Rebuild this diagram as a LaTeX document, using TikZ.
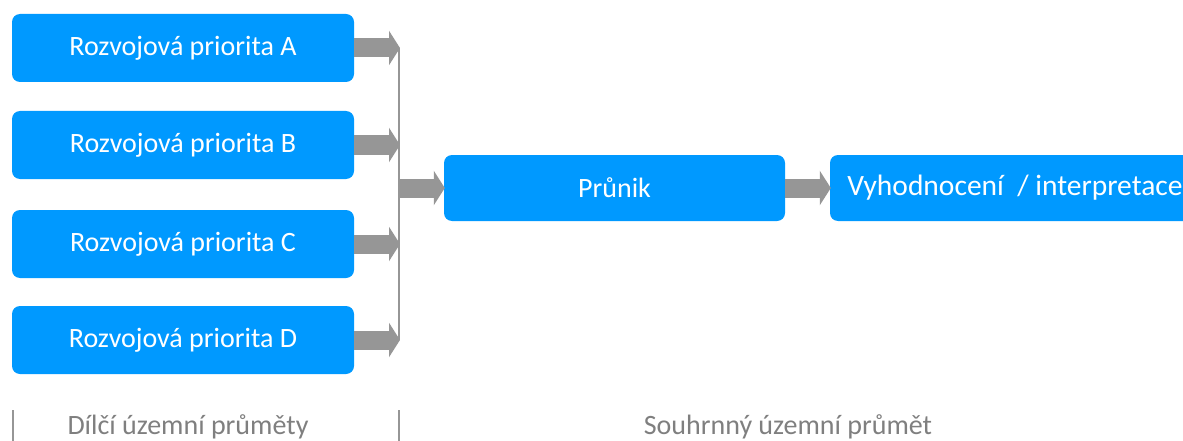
\documentclass[tikz,border=0pt]{standalone}
\usepackage{fontspec}
\setmainfont{Carlito}
\usetikzlibrary{arrows.meta}
\definecolor{boxblue}{RGB}{0,153,255}
\definecolor{arrowgray}{RGB}{150,150,150}
\definecolor{textgray}{RGB}{127,127,127}
\begin{document}
\begin{tikzpicture}[x=1pt, y=-1pt,
    prio/.style = {rectangle, rounded corners = 8pt, fill = boxblue, text = white,
        minimum width = 342pt, minimum height = 68pt, inner sep = 0pt,
        font = \fontsize{28}{30}\selectfont},
    fat/.style = {draw = arrowgray, line width = 19pt,
        -{Triangle[length = 11pt, width = 34pt]}, shorten >= -1pt},
    bus/.style = {draw = arrowgray, line width = 1.2pt},
    caption/.style = {text = textgray, font = \fontsize{28}{30}\selectfont}]
    \useasboundingbox (0,0) rectangle (1183,441);
    \clip (0,0) rectangle (1183,441);
    % left column
    \node [prio] (A) at (183,48) {Rozvojová priorita A};
    \node [prio] (B) at (183,145) {Rozvojová priorita B};
    \node [prio] (C) at (183,244) {Rozvojová priorita C};
    \node [prio] (D) at (183,340) {Rozvojová priorita D};
    \node [prio, minimum width = 341pt, minimum height = 66pt] (P) at (614.5,188) {Průnik};
    \node [prio, minimum width = 370pt, minimum height = 66pt,
        font = \fontsize{29.5}{30}\selectfont] (V) at (1015,188) {Vyhodnocení \ / interpretace};
    \coordinate (bus) at (399,188);
    % arrows into the bus
    \foreach \n in {A, B, C, D}
        \draw [fat] (\n.east) -- (\n.east -| bus);
    \draw [bus] (A.east -| bus) -- (D.east -| bus);
    \draw [fat] (bus) -- (P.west);
    \draw [fat] (P.east) -- (V.west);
    % captions
    \coordinate (t1) at (13,410);
    \coordinate (t2) at (399,410);
    \draw [bus] (t1) -- ++(0,31);
    \draw [bus] (t2) -- ++(0,31);
    \node [caption] (cap1) at (188,427) {Dílčí územní průměty};
    \node [caption] (cap2) at (788,427) {Souhrnný územní průmět};
\end{tikzpicture}
\end{document}
